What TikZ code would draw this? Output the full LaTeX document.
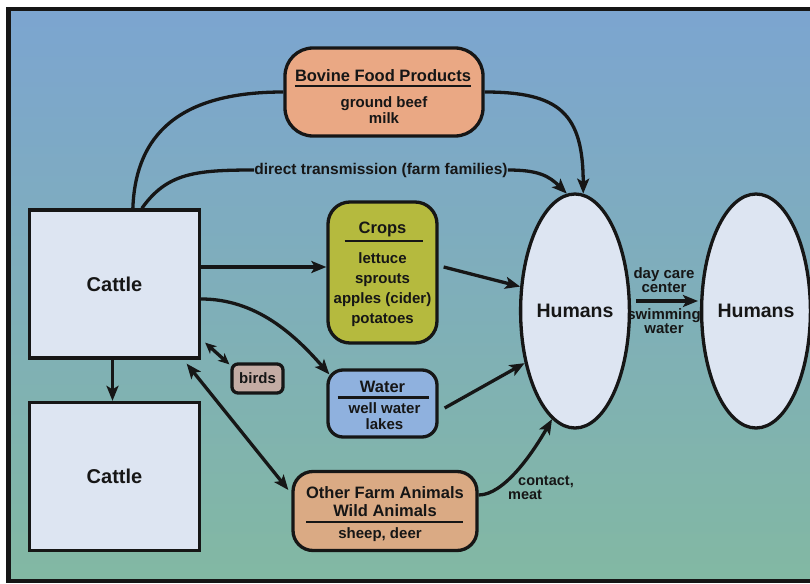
\documentclass[tikz,border=0pt]{standalone}
\usepackage{fontspec}
\setmainfont{Liberation Sans}
\usetikzlibrary{arrows.meta,calc,shapes.geometric}
\definecolor{bgtop}{RGB}{124,165,208}
\definecolor{bgbot}{RGB}{130,184,163}
\definecolor{bovc}{RGB}{234,168,132}
\definecolor{cropc}{RGB}{181,186,62}
\definecolor{waterc}{RGB}{143,177,222}
\definecolor{otherc}{RGB}{218,170,132}
\definecolor{birdc}{RGB}{196,172,164}
\definecolor{pale}{RGB}{221,229,242}
\definecolor{ink}{RGB}{22,22,22}
\begin{document}
\begin{tikzpicture}[x=1pt,y=-1pt,
  box/.style={draw=ink, line width=3.3pt, inner sep=0pt},
  bigbox/.style={box, fill=pale, minimum width=170pt, minimum height=148pt,
     font=\bfseries\fontsize{20}{22}\selectfont, text=ink},
  hum/.style={ellipse, draw=ink, line width=3.3pt, fill=pale, inner sep=0pt,
     minimum width=94pt, minimum height=234pt,
     font=\bfseries\fontsize{19.5}{22}\selectfont, text=ink},
  ttl/.style={anchor=base, inner sep=0pt, text=ink, font=\bfseries\fontsize{16.5}{18}\selectfont},
  bdy/.style={anchor=base, inner sep=0pt, text=ink, font=\bfseries\fontsize{15}{18}\selectfont},
  lbl/.style={inner sep=0pt, text=ink, align=center, font=\bfseries\fontsize{15}{14.5}\selectfont},
  con/.style={draw=ink, line width=3.3pt},
  arr/.style={con, -{Stealth[length=15pt,width=12pt,inset=3.5pt]}},
  darr/.style={con, {Stealth[length=15pt,width=12pt,inset=3.5pt]}-{Stealth[length=15pt,width=12pt,inset=3.5pt]}},
  sdarr/.style={con, {Stealth[length=11pt,width=10pt,inset=3pt]}-{Stealth[length=11pt,width=10pt,inset=3pt]}},
  rul/.style={draw=ink, line width=2.8pt}]
\useasboundingbox (0,0) rectangle (810,583);
\fill[white] (0,0) rectangle (810,583);
\fill[ink] (6,7) rectangle (810,583);
\shade[top color=bgtop, bottom color=bgbot] (11,12) rectangle (810,578);

% nodes
\node[bigbox] (c1) at (114.5,284) {Cattle};
\node[bigbox] (c2) at (114.5,476.5) {Cattle};
\node[hum] (h1) at (575,311) {Humans};
\node[hum] (h2) at (756,311) {Humans};

\node[box, fill=bovc, rounded corners=28pt, minimum width=198pt, minimum height=88pt] (bov) at (384,92) {};
\node[ttl] (bovt) at ($(bov.center)+(-1,-10)$) {Bovine Food Products};
\draw[line width=2.4pt, draw=ink] ($(bovt.base west)+(0,4)$) -- ($(bovt.base east)+(0,4)$);
\node[bdy] at ($(bov.center)+(0,15)$) {ground beef};
\node[bdy] at ($(bov.center)+(0,32)$) {milk};

\node[box, fill=cropc, rounded corners=22pt, minimum width=109pt, minimum height=141pt] (crops) at (382.5,272.5) {};
\node[ttl] at ($(crops.center)+(0,-39.5)$) {Crops};
\draw[rul] ($(crops.center)+(-38,-31.5)$) -- ($(crops.center)+(40,-31.5)$);
\node[bdy] at ($(crops.center)+(0,-9.5)$) {lettuce};
\node[bdy] at ($(crops.center)+(0,10.5)$) {sprouts};
\node[bdy] at ($(crops.center)+(0,30.5)$) {apples (cider)};
\node[bdy] at ($(crops.center)+(0,50.5)$) {potatoes};

\node[box, fill=waterc, rounded corners=15pt, minimum width=109pt, minimum height=67pt] (water) at (382.5,403.5) {};
\node[ttl] at ($(water.center)+(0,-11.5)$) {Water};
\draw[rul] ($(water.center)+(-45,-6)$) -- ($(water.center)+(46,-6)$);
\node[bdy] at ($(water.center)+(2,9.5)$) {well water};
\node[bdy] at ($(water.center)+(2,25.5)$) {lakes};

\node[box, fill=otherc, rounded corners=20pt, minimum width=184pt, minimum height=79pt] (other) at (385,511) {};
\node[ttl] at ($(other.center)+(0,-13)$) {Other Farm Animals};
\node[ttl] at ($(other.center)+(0,5)$) {Wild Animals};
\draw[rul] ($(other.center)+(-79,11)$) -- ($(other.center)+(78,11)$);
\node[bdy] at ($(other.center)+(-5,27)$) {sheep, deer};

\node[box, fill=birdc, rounded corners=6pt, minimum width=51pt, minimum height=29pt,
   text=ink, font=\bfseries\fontsize{15}{18}\selectfont] (birds) at (257.5,378.5) {birds};

% labels
\node[lbl, font=\bfseries\fontsize{15.5}{18}\selectfont] (dt) at (381,170) {direct transmission (farm families)};
\node[lbl] (dc) at (664,280) {day care\\center};
\node[lbl] (sw) at (664,321) {swimming\\water};
\node[lbl, align=left, font=\bfseries\fontsize{14.5}{13.5}\selectfont] (cm) at (541,488) {\hspace{10pt}contact,\\meat};

% connectors
\draw[con] ($(c1.north west)+(105,0)$) .. controls +(3,-85) and +(-90,0) .. (bov.west);
\draw[arr] (bov.east) .. controls +(75,0) and +(0,-80) .. (h1.86);
\draw[con] ($(c1.north west)+(114,0)$) .. controls +(25,-35) and +(-60,0) .. (dt.west);
\draw[arr] (dt.east) .. controls +(30,0) and +(-18,-18) .. (h1.94);

\coordinate (a4) at ($(c1.east)+(0,-17)$);
\draw[arr] (a4) -- (a4 -| crops.west);
\coordinate (a5) at ($(c1.east)+(0,15)$);
\draw[arr] (a5) .. controls +(55,0) and +(-35,-40) .. ($(water.north west)+(3,6)$);
\draw[sdarr] ($(c1.south east)+(4,-17)$) -- ($(birds.north west)+(-1,2)$);
\draw[darr] ($(c1.south east)+(-14.5,4)$) -- ($(other.west)+(-3,-21)$);
\draw[arr] ($(c1.south)+(-2,0)$) -- ($(c2.north)+(-2,0)$);

\draw[arr] ($(crops.east)+(5,-5.5)$) -- (h1.156);
\draw[arr] ($(water.east)+(6,4.5)$) -- (h1.226);
\draw[arr] ($(other.east)+(0,-16)$) .. controls +(25,0) and +(-20,35) .. (h1.258);
\draw[arr] ($(h1.east)+(5,-10)$) -- ($(h2.west)+(-2,-10)$);
\end{tikzpicture}
\end{document}
